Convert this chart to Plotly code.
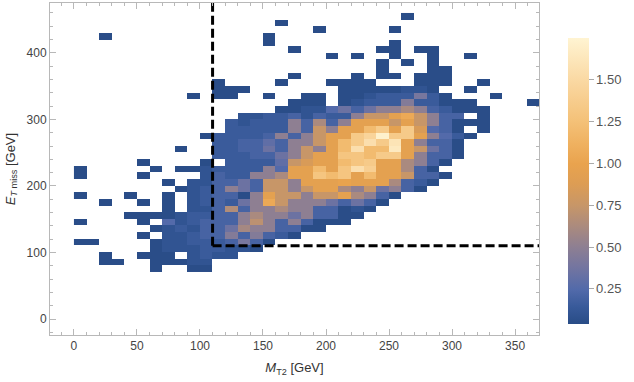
import plotly.graph_objects as go

# ---- bins (lower edges, GeV) ----
MT2_BIN_LO = [0, 10, 20, 30, 40, 50, 60, 70, 80, 90, 100, 110, 120, 130, 140, 150, 160, 170,
              180, 190, 200, 210, 220, 230, 240, 250, 260, 270, 280, 290, 300, 310, 320, 330,
              340, 350, 360]
MET_BIN_LO = [70, 80, 90, 100, 110, 120, 130, 140, 150, 160, 170, 180, 190, 200, 210, 220, 230,
              240, 250, 260, 270, 280, 290, 300, 310, 320, 330, 340, 350, 360, 370, 380, 390,
              400, 410, 420, 430, 440, 450]
BIN_WIDTH = 10

# ---- density per MET row (37 MT2 bins each, 0 = empty) ----
R070 = [0,0,0,0,0,0,.05,0,0,.05, .05,0,0,0,0,0,0,0,0,0, 0,0,0,0,0,0,0,0,0,0, 0,0,0,0,0,0,0]
R080 = [0,0,.05,.05,0,0,.05,.05,.05,.1, .1,0,0,0,0,0,0,0,0,0, 0,0,0,0,0,0,0,0,0,0, 0,0,0,0,0,0,0]
R090 = [0,0,.05,0,0,.05,.05,.05,0,.1, .15,.1,.1,0,0,0,0,0,0,0, 0,0,0,0,0,0,0,0,0,0, 0,0,0,0,0,0,0]
R100 = [0,0,0,0,0,0,.05,.1,.1,.1, .15,.15,.1,.1,.05,0,0,0,0,0, 0,0,0,0,0,0,0,0,0,0, 0,0,0,0,0,0,0]
R110 = [.05,.05,0,0,0,0,.05,.1,.1,.15, .15,.15,.2,.4,.2,.05,0,0,0,0, 0,0,0,0,0,0,0,0,0,0, 0,0,0,0,0,0,0]
R120 = [0,0,0,0,0,.05,0,.1,.1,.15, .2,.2,.45,.2,.45,.2,.15,.05,0,0, 0,0,0,0,0,0,0,0,0,0, 0,0,0,0,0,0,0]
R130 = [0,0,0,0,0,0,.05,.1,.15,.1, .2,.2,.35,.6,.5,.5,.2,.2,.05,.05, 0,0,0,0,0,0,0,0,0,0, 0,0,0,0,0,0,0]
R140 = [.05,0,0,0,0,.05,0,.25,.1,.15, .2,.2,.2,.5,.7,.5,.2,.5,.2,.05, .05,.05,0,0,0,0,0,0,0,0, 0,0,0,0,0,0,0]
R150 = [0,0,0,0,.05,.05,.05,.05,.1,.15, .15,.2,.2,.5,.62,.5,.5,.35,.5,.2, .2,.05,.05,0,0,0,0,0,0,0, 0,0,0,0,0,0,0]
R160 = [0,0,0,0,0,0,0,.05,0,.1, .1,.2,.65,.2,.5,.5,.62,.5,.5,.2, .2,.05,.1,.05,0,0,0,0,0,0, 0,0,0,0,0,0,0]
R170 = [0,0,.05,0,0,.05,0,.05,0,.1, .15,.2,.15,.35,.5,1.05,.75,.5,.5,.5, .35,.2,.35,.2,.05,0,0,0,0,0, 0,0,0,0,0,0,0]
R180 = [.05,0,0,0,.05,0,0,.05,0,.1, .15,.2,.2,.05,.5,.95,.75,.75,.5,.75, .75,.95,.62,.5,.2,.05,0,0,0,0, 0,0,0,0,0,0,0]
R190 = [0,0,0,0,0,0,0,0,.05,.1, .15,.2,.5,.35,.2,.75,.75,.5,.75,.95, .95,.62,.5,.75,.35,.5,.2,.05,0,0, 0,0,0,0,0,0,0]
R200 = [0,0,0,0,0,0,0,.05,0,.1, .1,.2,.2,.35,.2,.75,.75,.5,.95,.95, .95,1.0,.95,.95,.95,.62,.2,.15,.05,0, 0,0,0,0,0,0,0]
R210 = [.05,0,0,0,0,.05,0,0,0,0, .1,.2,.15,.15,.5,.5,.62,.95,.95,1.3, 1.2,1.3,.95,1.2,.95,.95,.75,.2,.2,.05, 0,0,0,0,0,0,0]
R220 = [.05,0,0,0,0,0,.05,0,.05,.05, .1,.15,.15,.15,.15,.5,.25,.95,.95,1.2, .95,1.3,1.55,1.4,.95,.95,.62,.2,.05,0, 0,0,0,0,0,0,0]
R230 = [0,0,0,0,0,.05,0,0,0,0, .05,0,.15,.15,.15,.15,.3,.75,.85,.95, .95,1.2,1.3,1.35,.95,.95,.62,.5,.2,.05, 0,0,0,0,0,0,0]
R240 = [0,0,0,0,0,0,0,0,0,0, 0,.15,.15,.15,.2,.2,.35,.5,.75,.95, .95,1.3,1.3,1.2,1.35,1.35,.95,.5,.2,.2, .05,0,0,0,0,0,0]
R250 = [0,0,0,0,0,0,0,0,.05,0, 0,.15,.15,.2,.2,.35,.2,.5,.75,.5, .95,1.2,1.55,1.2,1.2,1.65,.95,.75,.35,.2, .05,0,0,0,0,0,0]
R260 = [0,0,0,0,0,0,0,0,0,0, 0,.15,.15,.2,.2,.3,.2,.5,.5,.75, .95,1.2,1.35,1.55,1.35,1.6,.95,.5,.2,.2, .05,0,0,0,0,0,0]
R270 = [0,0,0,0,0,0,0,0,0,0, .05,.15,.15,.15,.15,.2,.5,.2,.5,.75, .95,.95,1.35,1.45,1.72,1.35,1.35,.95,.5,.25, .15,.05,0,0,0,0,0]
R280 = [0,0,0,0,0,0,0,0,0,0, 0,0,.15,.15,.15,.15,.15,.5,.2,.75, .5,.95,.95,1.2,1.35,.95,1.35,.85,.25,.2, .05,0,.05,0,0,0,0]
R290 = [0,0,0,0,0,0,0,0,0,0, 0,0,.15,.1,.15,.15,.15,.5,.2,.62, .2,.5,.95,.95,.95,.75,.95,.75,.5,.2, .05,.05,.05,0,0,0,0]
R300 = [0,0,0,0,0,0,0,0,0,0, 0,0,0,.1,.1,.15,.15,.2,.1,.2, .15,.15,.5,.75,.75,.95,1.05,.75,.5,.2, .2,0,.05,0,0,0,0]
R310 = [0,0,0,0,0,0,0,0,0,0, 0,0,0,0,0,0,.05,.05,.1,.1, .25,.35,.2,.35,.5,.5,.62,.5,.2,.15, .05,.05,.05,0,0,0,0]
R320 = [0,0,0,0,0,0,0,0,0,0, 0,0,0,0,0,0,0,.05,.05,.05, 0,.05,.1,.15,.15,.15,.45,.15,.15,.05, .05,.05,0,0,0,0,.05]
R330 = [0,0,0,0,0,0,0,0,0,.05, 0,.05,.05,0,0,.05,0,0,.05,.05, 0,.05,.05,.1,.15,.15,.15,.4,.15,.05, 0,0,0,.05,0,0,0]
R340 = [0,0,0,0,0,0,0,0,0,0, 0,.05,.05,.05,0,0,0,0,0,0, 0,.05,.05,.05,.05,.05,.1,.1,.05,0, 0,.05,0,0,0,0,0]
R350 = [0,0,0,0,0,0,0,0,0,0, 0,.05,0,0,0,0,.05,0,0,0, .05,.05,.05,.05,0,0,0,.05,.05,.05, 0,0,.05,0,0,0,0]
R360 = [0,0,0,0,0,0,0,0,0,0, 0,0,0,0,0,0,0,.05,0,0, 0,0,.05,0,.05,.05,0,.05,.05,.05, 0,0,0,0,0,0,0]
R370 = [0,0,0,0,0,0,0,0,0,0, 0,0,0,0,0,0,0,0,0,0, 0,0,0,0,.05,0,0,0,.05,.05, 0,0,0,0,0,0,0]
R380 = [0,0,0,0,0,0,0,0,0,0, 0,0,0,0,0,0,0,0,0,0, 0,0,0,0,.05,0,.05,0,.05,0, 0,0,0,0,0,0,0]
R390 = [0,0,0,0,0,0,0,0,0,0, 0,0,0,0,0,0,0,0,0,0, .05,0,.05,0,0,.05,0,0,.05,0, 0,.05,0,0,0,0,0]
R400 = [0,0,0,0,0,0,0,0,0,0, 0,0,0,0,0,0,0,.05,0,0, 0,0,0,0,.05,.05,0,.05,.05,0, 0,0,0,0,0,0,0]
R410 = [0,0,0,0,0,0,0,0,0,0, 0,0,0,0,0,.05,0,0,0,0, 0,0,0,0,0,.05,0,0,0,0, 0,0,0,0,0,0,0]
R420 = [0,0,.05,0,0,0,0,0,0,0, 0,0,0,0,0,.05,0,0,0,0, 0,0,0,0,0,0,0,0,0,0, 0,0,0,0,0,0,0]
R430 = [0,0,0,0,0,0,0,0,0,0, 0,0,0,0,0,0,0,0,0,.05, 0,0,0,0,0,.05,0,0,0,0, 0,0,0,0,0,0,0]
R440 = [0,0,0,0,0,0,0,0,0,0, 0,0,0,0,0,0,.05,0,0,0, 0,0,0,0,0,0,0,0,0,0, 0,0,0,0,0,0,0]
R450 = [0,0,0,0,0,0,0,0,0,0, 0,0,0,0,0,0,0,0,0,0, 0,0,0,0,0,0,.05,0,0,0, 0,0,0,0,0,0,0]

ROWS = [R070, R080, R090, R100, R110, R120, R130, R140, R150, R160, R170, R180, R190,
        R200, R210, R220, R230, R240, R250, R260, R270, R280, R290, R300, R310, R320,
        R330, R340, R350, R360, R370, R380, R390, R400, R410, R420, R430, R440, R450]

# ---- cuts ----
CUT_MT2 = 110
CUT_MET = 110

# ---- axes / colorbar ticks ----
X_TICKS = [0, 50, 100, 150, 200, 250, 300, 350]
Y_TICKS = [0, 100, 200, 300, 400]
CB_TICKS = [0.25, 0.50, 0.75, 1.00, 1.25, 1.50]
CB_TEXT = ["0.25", "0.50", "0.75", "1.00", "1.25", "1.50"]
X_RANGE = [-19, 369]
Y_RANGE = [-24, 475]
Z_RANGE = [0.04, 1.75]

x_centers = [lo + BIN_WIDTH / 2 for lo in MT2_BIN_LO]
y_centers = [lo + BIN_WIDTH / 2 for lo in MET_BIN_LO]
z = [[v if v > 0 else None for v in row] for row in ROWS]

colorscale = [
    [0.00, "rgb(40,76,134)"],
    [0.06, "rgb(56,90,154)"],
    [0.12, "rgb(82,106,170)"],
    [0.20, "rgb(116,117,160)"],
    [0.27, "rgb(142,127,146)"],
    [0.345, "rgb(172,139,125)"],
    [0.415, "rgb(199,150,104)"],
    [0.49, "rgb(221,157,84)"],
    [0.56, "rgb(233,163,78)"],
    [0.63, "rgb(239,177,96)"],
    [0.71, "rgb(244,193,120)"],
    [0.85, "rgb(250,216,162)"],
    [1.00, "rgb(255,244,210)"],
]

fig = go.Figure()
fig.add_trace(go.Heatmap(
    x=x_centers, y=y_centers, z=z,
    zmin=Z_RANGE[0], zmax=Z_RANGE[1],
    colorscale=colorscale,
    hoverongaps=False,
    colorbar=dict(
        x=1.0593, xanchor="left", xpad=0,
        y=0.4639, yanchor="middle",
        len=0.9217, lenmode="fraction",
        thickness=21, outlinewidth=0,
        tickvals=CB_TICKS, ticktext=CB_TEXT,
        ticks="outside", ticklen=5, tickcolor="#aaaaaa",
        tickfont=dict(family="Liberation Sans", size=13, color="#555555"),
    ),
))

line_style = dict(color="black", width=3, dash="9px,4px")
fig.add_trace(go.Scatter(x=[CUT_MT2, CUT_MT2], y=[CUT_MET, Y_RANGE[1]], mode="lines",
                         line=line_style, showlegend=False, hoverinfo="skip"))
fig.add_trace(go.Scatter(x=[CUT_MT2, X_RANGE[1]], y=[CUT_MET, CUT_MET], mode="lines",
                         line=line_style, showlegend=False, hoverinfo="skip"))

axis_common = dict(
    showline=True, linecolor="#b8b8b8", linewidth=1, mirror="allticks",
    ticks="inside", ticklen=6, tickcolor="#b8b8b8", tickwidth=1,
    showgrid=False, zeroline=False,
    tickfont=dict(family="Liberation Sans", size=12, color="#444444"),
)

fig.update_layout(
    template="none",
    width=634, height=382,
    margin=dict(l=50, r=95, t=3, b=47),
    paper_bgcolor="white", plot_bgcolor="white",
    showlegend=False,
    xaxis=dict(range=X_RANGE, tickvals=X_TICKS,
               minor=dict(dtick=10, tick0=0, ticks="inside", ticklen=3, tickcolor="#b8b8b8"),
               title=dict(text="<i>M</i><sub>T2</sub> [GeV]", standoff=10,
                          font=dict(family="Liberation Sans", size=13, color="#333333")),
               **axis_common),
    yaxis=dict(range=Y_RANGE, tickvals=Y_TICKS,
               minor=dict(dtick=20, tick0=0, ticks="inside", ticklen=3, tickcolor="#b8b8b8"),
               title=dict(text="<i>E</i><sub><i>T</i> miss</sub> [GeV]", standoff=8,
                          font=dict(family="Liberation Sans", size=13, color="#333333")),
               **axis_common),
)

fig.write_html("out.html")
